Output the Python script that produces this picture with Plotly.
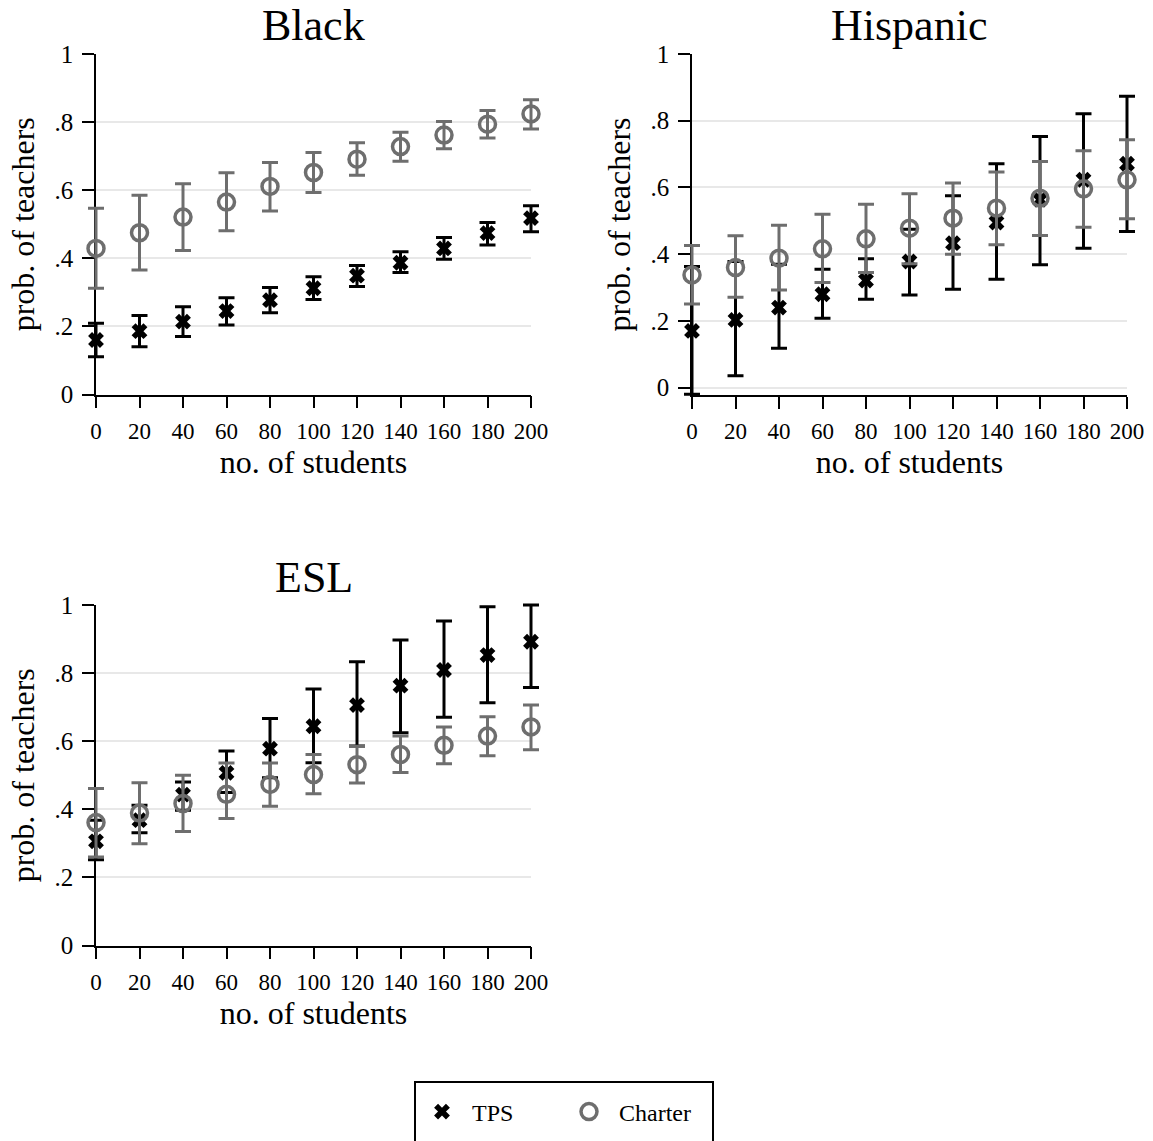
import plotly.graph_objects as go

# Predicted probability of teachers by number of students, by school type
students = [0, 20, 40, 60, 80, 100, 120, 140, 160, 180, 200]

# Black
black_tps = [0.160, 0.186, 0.214, 0.245, 0.277, 0.312, 0.349, 0.387, 0.429, 0.474, 0.518]
black_tps_lo = [0.111, 0.140, 0.170, 0.204, 0.240, 0.279, 0.317, 0.358, 0.397, 0.439, 0.478]
black_tps_hi = [0.209, 0.232, 0.258, 0.284, 0.314, 0.346, 0.379, 0.419, 0.461, 0.505, 0.554]
black_ch = [0.429, 0.475, 0.521, 0.565, 0.611, 0.652, 0.691, 0.728, 0.762, 0.794, 0.824]
black_ch_lo = [0.312, 0.366, 0.423, 0.481, 0.539, 0.593, 0.644, 0.685, 0.722, 0.753, 0.780]
black_ch_hi = [0.547, 0.585, 0.619, 0.651, 0.681, 0.711, 0.739, 0.770, 0.802, 0.834, 0.866]

# Hispanic
hisp_tps = [0.170, 0.203, 0.240, 0.280, 0.321, 0.378, 0.433, 0.495, 0.563, 0.623, 0.671]
hisp_tps_lo = [-0.020, 0.036, 0.118, 0.208, 0.265, 0.278, 0.295, 0.325, 0.368, 0.418, 0.468]
hisp_tps_hi = [0.363, 0.378, 0.370, 0.355, 0.386, 0.475, 0.575, 0.671, 0.753, 0.821, 0.873]
hisp_ch = [0.338, 0.360, 0.388, 0.416, 0.446, 0.478, 0.508, 0.538, 0.568, 0.596, 0.623]
hisp_ch_lo = [0.251, 0.271, 0.293, 0.315, 0.345, 0.371, 0.400, 0.428, 0.456, 0.481, 0.506]
hisp_ch_hi = [0.426, 0.455, 0.487, 0.520, 0.550, 0.581, 0.613, 0.646, 0.678, 0.710, 0.743]

# ESL
esl_tps = [0.306, 0.368, 0.443, 0.507, 0.578, 0.644, 0.706, 0.763, 0.809, 0.853, 0.892]
esl_tps_lo = [0.252, 0.331, 0.397, 0.449, 0.493, 0.537, 0.586, 0.625, 0.670, 0.713, 0.758]
esl_tps_hi = [0.368, 0.412, 0.480, 0.571, 0.667, 0.753, 0.833, 0.897, 0.953, 0.995, 1.000]
esl_ch = [0.361, 0.389, 0.417, 0.444, 0.473, 0.502, 0.531, 0.561, 0.588, 0.615, 0.642]
esl_ch_lo = [0.260, 0.299, 0.335, 0.373, 0.409, 0.446, 0.477, 0.508, 0.534, 0.557, 0.575]
esl_ch_hi = [0.461, 0.478, 0.500, 0.536, 0.536, 0.561, 0.585, 0.615, 0.642, 0.672, 0.706]

y_tickvals = [0, 0.2, 0.4, 0.6, 0.8, 1]
y_ticktext = ["0", ".2", ".4", ".6", ".8", "1"]

W, H = 1153, 1141
SERIF = "Liberation Serif, Times New Roman, serif"
TPS_COLOR = "#000000"
CH_COLOR = "#6e6e6e"

panels = [
    # title, data, x px domain, y px domain (top, bottom), y range
    ("Black", (black_tps, black_tps_lo, black_tps_hi, black_ch, black_ch_lo, black_ch_hi),
     (96, 531), (54, 394.5), [0, 1]),
    ("Hispanic", (hisp_tps, hisp_tps_lo, hisp_tps_hi, hisp_ch, hisp_ch_lo, hisp_ch_hi),
     (692, 1127), (54, 395), [-0.022, 1]),
    ("ESL", (esl_tps, esl_tps_lo, esl_tps_hi, esl_ch, esl_ch_lo, esl_ch_hi),
     (96, 531), (605, 945.5), [0, 1]),
]

XPAD = 8      # data units of padding on the hidden marker axes
YPAD = 0.04

fig = go.Figure()
annotations = []
layout_axes = {}


def ax_name(n):
    return "" if n == 1 else str(n)


for i, (title, data, xpx, ypx, yrange) in enumerate(panels):
    tps, tps_lo, tps_hi, ch, ch_lo, ch_hi = data
    vis = ax_name(i + 1)          # visible frame axes
    dat = ax_name(i + 4)          # hidden axes that carry the marks (wider, so caps at edges are not clipped)
    first = i == 0

    xdom = [xpx[0] / W, xpx[1] / W]
    ydom = [1 - ypx[1] / H, 1 - ypx[0] / H]

    # visible axes: frame, ticks and grid
    layout_axes["xaxis" + vis] = dict(
        domain=xdom, anchor="y" + vis, range=[0, 200],
        tickvals=students, ticktext=[str(s) for s in students],
        showline=True, linecolor="black", linewidth=1.5,
        ticks="outside", ticklen=12, tickwidth=1.5, tickcolor="black",
        ticklabelstandoff=3,
        showgrid=False, zeroline=False,
        tickfont=dict(family=SERIF, size=23, color="black"),
        title=dict(text="no. of students", font=dict(family=SERIF, size=32, color="black"), standoff=0),
    )
    layout_axes["yaxis" + vis] = dict(
        domain=ydom, anchor="x" + vis, range=yrange,
        tickvals=y_tickvals, ticktext=y_ticktext,
        showline=True, linecolor="black", linewidth=1.5,
        ticks="outside", ticklen=12, tickwidth=1.5, tickcolor="black",
        ticklabelstandoff=4,
        showgrid=True, gridcolor="#e8e8e8", gridwidth=1.5, zeroline=False,
        tickfont=dict(family=SERIF, size=25, color="black"),
        title=dict(text="prob. of teachers", font=dict(family=SERIF, size=32, color="black"), standoff=10),
    )
    # empty trace so the frame subplot is drawn
    fig.add_trace(go.Scatter(
        x=[None], y=[None], xaxis="x" + vis, yaxis="y" + vis, mode="markers",
        showlegend=False, hoverinfo="skip",
    ))

    # hidden axes with the same scale, extended on every side
    xscale = (xpx[1] - xpx[0]) / 200.0
    yscale = (ypx[1] - ypx[0]) / (yrange[1] - yrange[0])
    xdom_d = [(xpx[0] - XPAD * xscale) / W, (xpx[1] + XPAD * xscale) / W]
    ydom_d = [1 - (ypx[1] + YPAD * yscale) / H, 1 - (ypx[0] - YPAD * yscale) / H]
    layout_axes["xaxis" + dat] = dict(
        domain=xdom_d, anchor="y" + dat, range=[-XPAD, 200 + XPAD], visible=False,
    )
    layout_axes["yaxis" + dat] = dict(
        domain=ydom_d, anchor="x" + dat, range=[yrange[0] - YPAD, yrange[1] + YPAD], visible=False,
    )

    fig.add_trace(go.Scatter(
        x=students, y=tps, xaxis="x" + dat, yaxis="y" + dat, mode="markers",
        name="TPS", legendgroup="TPS", showlegend=first, cliponaxis=False,
        marker=dict(symbol="x", size=14, color=TPS_COLOR, line=dict(width=0)),
        error_y=dict(type="data", symmetric=False,
                     array=[h - v for h, v in zip(tps_hi, tps)],
                     arrayminus=[v - l for v, l in zip(tps, tps_lo)],
                     color=TPS_COLOR, thickness=3, width=8),
    ))
    fig.add_trace(go.Scatter(
        x=students, y=ch, xaxis="x" + dat, yaxis="y" + dat, mode="markers",
        name="Charter", legendgroup="Charter", showlegend=first, cliponaxis=False,
        marker=dict(symbol="circle-open", size=16, color=CH_COLOR, line=dict(width=3.5, color=CH_COLOR)),
        error_y=dict(type="data", symmetric=False,
                     array=[h - v for h, v in zip(ch_hi, ch)],
                     arrayminus=[v - l for v, l in zip(ch, ch_lo)],
                     color=CH_COLOR, thickness=3, width=8),
    ))

    annotations.append(dict(
        text=title, xref="paper", yref="paper",
        x=(xdom[0] + xdom[1]) / 2, y=1 - (ypx[0] - 28) / H,
        xanchor="center", yanchor="middle", showarrow=False,
        font=dict(family=SERIF, size=44, color="black"),
    ))

fig.update_layout(
    width=W, height=H,
    margin=dict(l=0, r=0, t=0, b=0, autoexpand=False),
    paper_bgcolor="white", plot_bgcolor="rgba(0,0,0,0)",
    showlegend=True,
    legend=dict(
        orientation="h", x=412 / W, y=1 - 1112 / H, xanchor="left", yanchor="middle",
        borderwidth=0, bgcolor="rgba(0,0,0,0)",
        font=dict(family=SERIF, size=24, color="black"),
        entrywidth=82, itemwidth=50,
    ),
    # legend frame, running off the bottom edge of the page
    shapes=[dict(type="rect", xref="paper", yref="paper",
                 x0=415 / W, x1=713 / W, y0=-0.02, y1=1 - 1082 / H,
                 line=dict(color="black", width=2), fillcolor="rgba(0,0,0,0)")],
    annotations=annotations,
    **layout_axes,
)

fig.write_html("out.html")
